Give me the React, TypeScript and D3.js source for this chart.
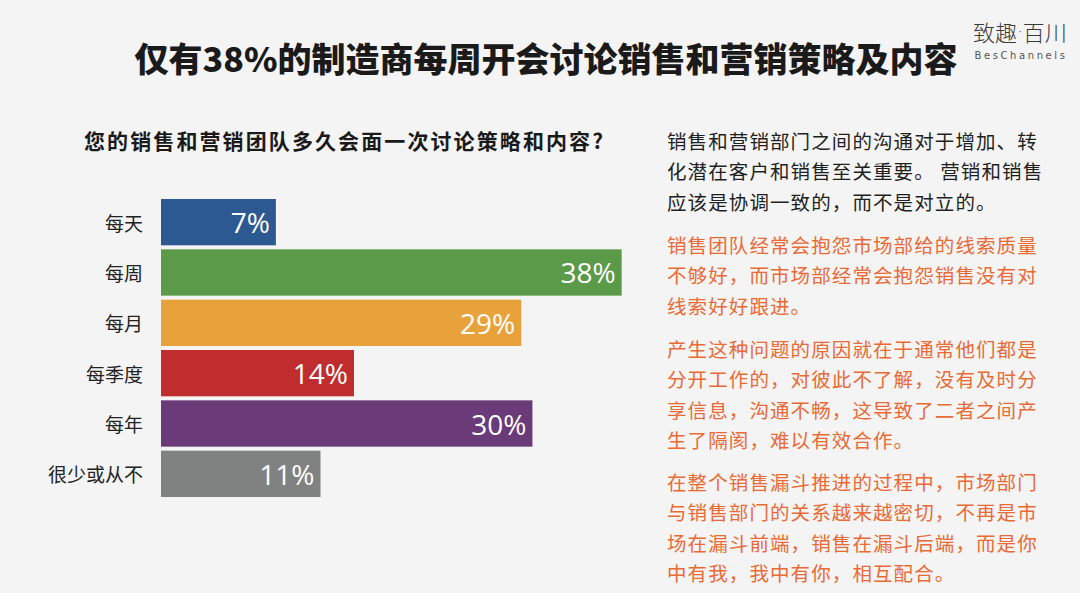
import React from "react";
import * as d3 from "d3";

const categories = ["每天", "每周", "每月", "每季度", "每年", "很少或从不"];
const values = [7, 38, 29, 14, 30, 11];
const valueLabels = ["7%", "38%", "29%", "14%", "30%", "11%"];
const barColors = ["#2d5992", "#5b9a48", "#e8a23c", "#c02d2e", "#6b3a78", "#808181"];

const title = "仅有38%的制造商每周开会讨论销售和营销策略及内容";
const subtitle = "您的销售和营销团队多久会面一次讨论策略和内容?";
const logoLeft = "致趣";
const logoDot = "·";
const logoRight = "百川";
const logoSub = "BesChannels";

const para1 = [
  "销售和营销部门之间的沟通对于增加、转",
  "化潜在客户和销售至关重要。 营销和销售",
  "应该是协调一致的，而不是对立的。",
];
const para2 = [
  "销售团队经常会抱怨市场部给的线索质量",
  "不够好，而市场部经常会抱怨销售没有对",
  "线索好好跟进。",
];
const para3 = [
  "产生这种问题的原因就在于通常他们都是",
  "分开工作的，对彼此不了解，没有及时分",
  "享信息，沟通不畅，这导致了二者之间产",
  "生了隔阂，难以有效合作。",
];
const para4 = [
  "在整个销售漏斗推进的过程中，市场部门",
  "与销售部门的关系越来越密切，不再是市",
  "场在漏斗前端，销售在漏斗后端，而是你",
  "中有我，我中有你，相互配合。",
];

const W = 1080;
const H = 593;
const CJK = "'Noto Sans CJK SC', 'Noto Sans', sans-serif";

export default function App() {
  const x = d3.scaleLinear().domain([-3.3, 38.3]).range([0, 464]);
  const x0 = 161;
  const y = d3.scaleBand<string>().domain(categories).range([199, 497]).paddingInner(0.08).paddingOuter(0);

  const paragraphs = [
    { lines: para1, top: 140, color: "#1f1f1f" },
    { lines: para2, top: 244, color: "#ea6a35" },
    { lines: para3, top: 348, color: "#ea6a35" },
    { lines: para4, top: 481, color: "#ea6a35" },
  ];

  return (
    <svg
      width={W}
      height={H}
      viewBox={`0 0 ${W} ${H}`}
      style={{ position: "absolute", left: 0, top: 0, display: "block" }}
    >
      <rect x={0} y={0} width={W} height={H} fill="#f4f4f4" />
      <text
        x={546}
        y={57}
        textAnchor="middle"
        dominantBaseline="central"
        fontFamily={CJK}
        fontWeight={900}
        fontSize={34}
        fill="#1a1a1a"
      >
        {title}
      </text>
      <text x={1020} y={31} textAnchor="middle" dominantBaseline="central" fontFamily={CJK} fontWeight={300} fontSize={22} fill="#3a3a3a">
        <tspan>{logoLeft}</tspan>
        <tspan fontFamily="'DejaVu Sans', sans-serif" fontSize={18}>{logoDot}</tspan>
        <tspan>{logoRight}</tspan>
      </text>
      <text x={1021} y={55} textAnchor="middle" dominantBaseline="central" fontFamily="'DejaVu Sans', sans-serif" fontSize={10} fill="#555" letterSpacing={2.6}>
        {logoSub}
      </text>

      <text x={84} y={140} dominantBaseline="central" fontFamily={CJK} fontWeight={700} fontSize={21} letterSpacing={2.1} fill="#1a1a1a">
        {subtitle}
      </text>

      {categories.map((c, i) => {
        const yy = y(c)!;
        const bw = x(values[i]);
        return (
          <g key={c}>
            <text x={143} y={yy + y.bandwidth() / 2} textAnchor="end" dominantBaseline="central" fontFamily={CJK} fontSize={19} fill="#222">
              {c}
            </text>
            <rect x={x0} y={yy} width={bw} height={y.bandwidth()} fill={barColors[i]} />
            <text
              x={x0 + bw - 6}
              y={yy + y.bandwidth() / 2}
              textAnchor="end"
              dominantBaseline="central"
              fontFamily="'Open Sans', sans-serif"
              fontSize={28}
              fill="#ffffff"
            >
              {valueLabels[i]}
            </text>
          </g>
        );
      })}

      {paragraphs.map((p, pi) =>
        p.lines.map((line, li) => (
          <text
            key={`${pi}-${li}`}
            x={667}
            y={p.top + li * 30.5}
            dominantBaseline="central"
            fontFamily={CJK}
            fontSize={19.5}
            letterSpacing={1.1}
            fill={p.color}
          >
            {line}
          </text>
        ))
      )}
    </svg>
  );
}
